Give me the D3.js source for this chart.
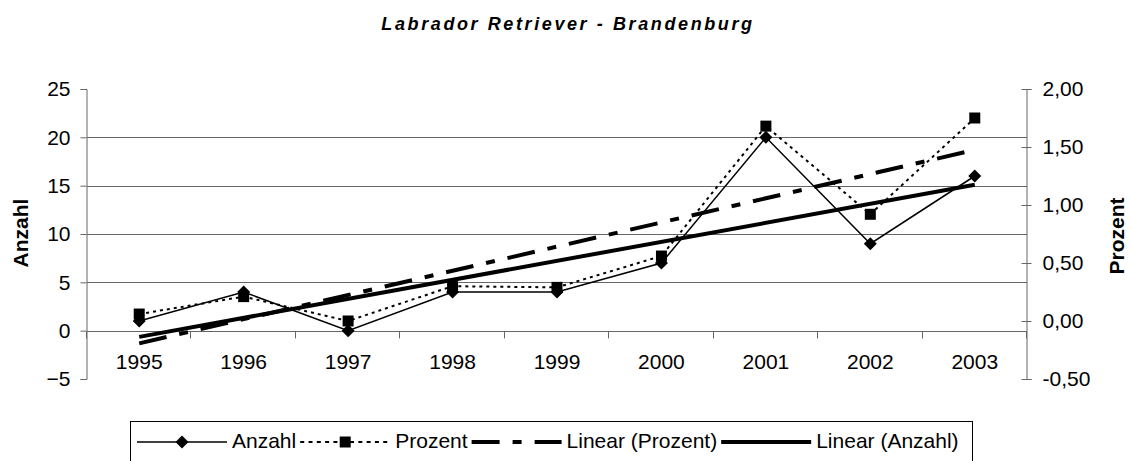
<!DOCTYPE html>
<html>
<head>
<meta charset="utf-8">
<script src="https://cdn.jsdelivr.net/npm/d3@7"></script>
<style>
  body { margin: 0; background: #fff; }
  svg text { font-family: "Liberation Sans", Arial, sans-serif; fill: #000; }
</style>
</head>
<body>
<div id="chart"></div>
<script>
var years = ["1995", "1996", "1997", "1998", "1999", "2000", "2001", "2002", "2003"];
var anzahl = [1, 4, 0, 4, 4, 7, 20, 9, 16];
var prozent = [0.06, 0.21, 0.00, 0.30, 0.29, 0.56, 1.68, 0.92, 1.75];
var leftTicks = [-5, 0, 5, 10, 15, 20, 25];
var rightTicks = [-0.5, 0, 0.5, 1, 1.5, 2];
var gridValues = [0, 5, 10, 15, 20];
var legendItems = ["Anzahl", "Prozent", "Linear (Prozent)", "Linear (Anzahl)"];

var width = 1131, height = 461;
var plot = { left: 87, right: 1027, top: 89, bottom: 379 };

var svg = d3.select("#chart").append("svg")
  .attr("width", width)
  .attr("height", height);

var de = d3.formatLocale({ decimal: ",", thousands: ".", grouping: [3], currency: ["", " €"], minus: "-" });
var fmtRight = de.format(".2f");

var x = d3.scaleBand().domain(years).range([plot.left, plot.right]);
var cx = function(d) { return x(d) + x.bandwidth() / 2; };
var yL = d3.scaleLinear().domain([-5, 25]).range([plot.bottom, plot.top]);
var yR = d3.scaleLinear().domain([-0.5, 2]).range([plot.bottom, plot.top]);

// least squares trend (as Excel "Linear")
function trend(vals) {
  var n = vals.length;
  var mx = (n + 1) / 2, my = d3.mean(vals);
  var sxy = 0, sxx = 0;
  vals.forEach(function(v, i) {
    sxy += (i + 1 - mx) * (v - my);
    sxx += (i + 1 - mx) * (i + 1 - mx);
  });
  var b = sxy / sxx, a = my - b * mx;
  return [a + b * 1, a + b * n];
}

// title
svg.append("text")
  .attr("x", 568)
  .attr("y", 30)
  .attr("text-anchor", "middle")
  .style("font-size", "18px")
  .style("font-weight", "bold")
  .style("font-style", "italic")
  .style("letter-spacing", "2.6px")
  .text("Labrador Retriever - Brandenburg");

// gridlines
svg.append("g").selectAll("line")
  .data(gridValues)
  .enter().append("line")
  .attr("x1", plot.left).attr("x2", plot.right)
  .attr("y1", function(d) { return Math.round(yL(d)) + 0.5; })
  .attr("y2", function(d) { return Math.round(yL(d)) + 0.5; })
  .style("stroke", "#666")
  .style("stroke-width", 1);

// left axis
var gl = svg.append("g")
  .attr("transform", "translate(" + (plot.left - 0.5) + ",0)")
  .call(d3.axisLeft(yL).tickValues(leftTicks).tickSize(6).tickPadding(10).tickFormat(d3.format("d")));
gl.select(".domain").style("stroke", "#666");
gl.selectAll(".tick line").style("stroke", "#666");
gl.selectAll("text").style("font-size", "21px").style("font-family", "Liberation Sans, Arial, sans-serif");

// right axis (ticks cross the line)
var gr = svg.append("g")
  .attr("transform", "translate(" + (plot.right - 0.5) + ",0)")
  .call(d3.axisRight(yR).tickValues(rightTicks).tickSize(5).tickPadding(11).tickFormat(fmtRight));
gr.select(".domain").style("stroke", "#666");
gr.selectAll(".tick line").attr("x1", -5).style("stroke", "#666");
gr.selectAll("text").style("font-size", "21px").style("font-family", "Liberation Sans, Arial, sans-serif");

// x axis on the zero line
var y0 = Math.round(yL(0)) + 0.5;
svg.append("line")
  .attr("x1", plot.left).attr("x2", plot.right)
  .attr("y1", y0).attr("y2", y0)
  .style("stroke", "#666");
svg.append("g").selectAll("line")
  .data(d3.range(years.length + 1))
  .enter().append("line")
  .attr("x1", function(i) { return Math.round(plot.left + i * x.step()) - 0.5; })
  .attr("x2", function(i) { return Math.round(plot.left + i * x.step()) - 0.5; })
  .attr("y1", y0).attr("y2", y0 + 7)
  .style("stroke", "#666");
var gx = svg.append("g")
  .attr("transform", "translate(0," + y0 + ")")
  .call(d3.axisBottom(x).tickSize(0).tickPadding(23));
gx.select(".domain").remove();
gx.selectAll("text").style("font-size", "21px").style("font-family", "Liberation Sans, Arial, sans-serif");

// axis titles
svg.append("text")
  .attr("transform", "translate(28,233) rotate(-90)")
  .attr("text-anchor", "middle")
  .style("font-size", "21px")
  .style("font-weight", "bold")
  .text("Anzahl");
svg.append("text")
  .attr("transform", "translate(1124,236) rotate(-90)")
  .attr("text-anchor", "middle")
  .style("font-size", "21px")
  .style("font-weight", "bold")
  .text("Prozent");

// trend lines
var tP = trend(prozent), tA = trend(anzahl);
svg.append("line")
  .attr("x1", cx(years[0])).attr("x2", cx(years[years.length - 1]))
  .attr("y1", yR(tP[0])).attr("y2", yR(tP[1]))
  .style("stroke", "#000").style("stroke-width", 4)
  .style("stroke-dasharray", "28,13,9,13");
svg.append("line")
  .attr("x1", cx(years[0])).attr("x2", cx(years[years.length - 1]))
  .attr("y1", yL(tA[0])).attr("y2", yL(tA[1]))
  .style("stroke", "#000").style("stroke-width", 4);

// Prozent series
var lineP = d3.line()
  .x(function(d, i) { return cx(years[i]); })
  .y(function(d) { return yR(d); });
svg.append("path")
  .datum(prozent)
  .attr("d", lineP)
  .style("fill", "none").style("stroke", "#000").style("stroke-width", 2)
  .style("stroke-dasharray", "3,4");

// Anzahl series
var lineA = d3.line()
  .x(function(d, i) { return cx(years[i]); })
  .y(function(d) { return yL(d); });
svg.append("path")
  .datum(anzahl)
  .attr("d", lineA)
  .style("fill", "none").style("stroke", "#000").style("stroke-width", 1.5);

var sq = d3.symbol().type(d3.symbolSquare).size(121);
var dia = function(s) { return "M0," + (-s) + "L" + s + ",0L0," + s + "L" + (-s) + ",0Z"; };

svg.append("g").selectAll("path")
  .data(prozent)
  .enter().append("path")
  .attr("d", sq)
  .attr("transform", function(d, i) { return "translate(" + cx(years[i]) + "," + yR(d) + ")"; })
  .style("fill", "#000");
svg.append("g").selectAll("path")
  .data(anzahl)
  .enter().append("path")
  .attr("d", dia(6.5))
  .attr("transform", function(d, i) { return "translate(" + cx(years[i]) + "," + yL(d) + ")"; })
  .style("fill", "#000");

// legend
var lg = svg.append("g");
lg.append("rect")
  .attr("x", 130.5).attr("y", 421.5)
  .attr("width", 842).attr("height", 50)
  .style("fill", "#fff").style("stroke", "#000").style("stroke-width", 1);

var ly = 442, lx = 137;
legendItems.forEach(function(name, i) {
  var x1 = lx, x2 = lx + 90, mid = (x1 + x2) / 2;
  var ln = lg.append("line")
    .attr("x1", x1).attr("x2", x2).attr("y1", ly).attr("y2", ly)
    .style("stroke", "#000");
  if (i == 0) {
    ln.style("stroke-width", 1.5);
    lg.append("path").attr("d", dia(6.5)).attr("transform", "translate(" + mid + "," + ly + ")");
  } else if (i == 1) {
    ln.style("stroke-width", 2).style("stroke-dasharray", "4,4.3");
    lg.append("path").attr("d", sq).attr("transform", "translate(" + mid + "," + ly + ")");
  } else if (i == 2) {
    ln.style("stroke-width", 4).style("stroke-dasharray", "28,13,9,13");
  } else {
    ln.style("stroke-width", 4);
  }
  var t = lg.append("text")
    .attr("x", x2 + 5)
    .attr("y", 448)
    .style("font-size", "21px")
    .text(name);
  lx = x2 + 5 + t.node().getComputedTextLength() + 4;
});
</script>
</body>
</html>
